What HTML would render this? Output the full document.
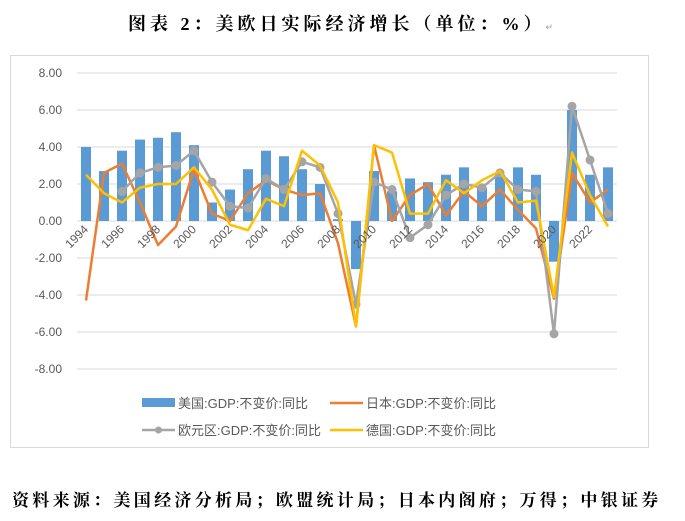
<!DOCTYPE html>
<html><head><meta charset="utf-8"><style>
body{margin:0;background:#fff;width:685px;height:521px;overflow:hidden;position:relative;font-family:"Liberation Sans","Noto Sans CJK SC",sans-serif}
#title{position:absolute;top:10px;left:0;width:685px;text-align:center;font-family:"Liberation Serif","Noto Serif CJK SC",serif;font-weight:bold;font-size:18px;letter-spacing:4px;color:#000}
#footer{position:absolute;top:486px;left:12px;white-space:nowrap;font-family:"Liberation Serif","Noto Serif CJK SC",serif;font-weight:bold;font-size:17px;letter-spacing:3.3px;color:#000}
</style></head><body>
<div id="title">图表 2：美欧日实际经济增长（单位：%）<span style="font-size:9px;color:#999;font-weight:normal">↵</span></div>
<svg id="chart" width="685" height="521" style="position:absolute;left:0;top:0">
<rect x="10.5" y="55.5" width="638" height="392" fill="none" stroke="#d9d9d9"/>
<g id="grid"></g><g id="bars"></g><g id="lines"></g><g id="axes"></g>
<g id="legend" font-size="13" fill="#595959">
<rect x="142" y="398" width="33" height="9" fill="#5b9bd5"/>
<text x="178" y="408">美国:GDP:不变价:同比</text>
<line x1="330" y1="403" x2="363" y2="403" stroke="#ed7d31" stroke-width="2.5"/>
<text x="366" y="408">日本:GDP:不变价:同比</text>
<line x1="142" y1="430" x2="175" y2="430" stroke="#a5a5a5" stroke-width="2.5"/>
<circle cx="158.5" cy="430" r="3.5" fill="#a5a5a5"/>
<text x="178" y="435">欧元区:GDP:不变价:同比</text>
<line x1="330" y1="430" x2="363" y2="430" stroke="#ffc000" stroke-width="2.5"/>
<text x="366" y="435">德国:GDP:不变价:同比</text>
</g>
</svg>
<div id="footer">资料来源：美国经济分析局；欧盟统计局；日本内阁府；万得；中银证券</div>
<script>
const years=[1994,1995,1996,1997,1998,1999,2000,2001,2002,2003,2004,2005,2006,2007,2008,2009,2010,2011,2012,2013,2014,2015,2016,2017,2018,2019,2020,2021,2022,2023];
const usVals=[4.0,2.7,3.8,4.4,4.5,4.8,4.1,1.0,1.7,2.8,3.8,3.5,2.8,2.0,0.1,-2.6,2.7,1.6,2.3,2.1,2.5,2.9,1.8,2.5,2.9,2.5,-2.2,6.0,2.5,2.9];
const japanVals=[-4.3,2.6,3.1,1.0,-1.3,-0.3,2.8,0.4,0.0,1.5,2.2,1.7,1.4,1.5,-1.2,-5.7,4.1,0.0,1.4,2.0,0.3,1.6,0.8,1.7,0.6,-0.4,-4.2,2.6,1.0,1.7];
const euroVals=[null,null,1.6,2.6,2.9,3.0,3.8,2.1,0.8,0.7,2.3,1.7,3.2,2.9,0.4,-4.5,2.1,1.7,-0.9,-0.2,1.4,2.0,1.8,2.6,1.7,1.6,-6.1,6.2,3.3,0.4];
const germanyVals=[2.5,1.5,1.0,1.8,2.0,2.0,2.9,1.7,-0.2,-0.5,1.2,0.8,3.8,3.0,1.0,-5.7,4.1,3.7,0.4,0.4,2.2,1.5,2.2,2.7,1.0,1.1,-4.1,3.7,1.4,-0.3];
const yTicks=[8,6,4,2,0,-2,-4,-6,-8];
const NS='http://www.w3.org/2000/svg';
const x0=77,x1=617,y0=73,y1=369,yMax=8,yMin=-8;
const step=(x1-x0)/years.length;
function xs(i){return x0+step*(i+0.5);}
function ys(v){return y0+(yMax-v)/(yMax-yMin)*(y1-y0);}
function mk(t,a,p){const e=document.createElementNS(NS,t);for(const k in a)e.setAttribute(k,a[k]);document.getElementById(p).appendChild(e);return e;}
yTicks.forEach(v=>{
 const g=mk('line',{x1:x0,x2:x1,y1:ys(v),y2:ys(v),stroke:'#d9d9d9','stroke-width':1},'grid');
 
 
 const t=mk('text',{x:62,y:ys(v)+4,'text-anchor':'end','font-size':12,fill:'#595959'},'axes');
 t.textContent=v.toFixed(2);
 
 
});
years.forEach((yr,i)=>{
 const v=usVals[i],bw=10;
 const b=mk('rect',{x:xs(i)-bw/2,y:Math.min(ys(v),ys(0)),width:bw,height:Math.abs(ys(v)-ys(0)),fill:'#5b9bd5'},'bars');
 
 
 if(i%2===0){
  const t=mk('text',{x:0,y:0,'text-anchor':'end','font-size':12,fill:'#595959',transform:`translate(${xs(i)+3},${ys(0)+9}) rotate(-45)`},'axes');
  t.textContent=yr;
  
  
 }
});
function series(vals,color,name,markers){
 let d='';vals.forEach((v,i)=>{if(v===null)return;d+=(d?'L':'M')+xs(i)+','+ys(v);});
 const p=mk('path',{d:d,fill:'none',stroke:color,'stroke-width':2.5,'stroke-linejoin':'round'},'lines');
 
 
 if(markers)vals.forEach((v,i)=>{if(v===null)return;
  const c=mk('circle',{cx:xs(i),cy:ys(v),r:4.5,fill:color},'lines');
  
  
 });
}
series(japanVals,'#ed7d31','japan',false);
series(euroVals,'#a5a5a5','euro',true);
series(germanyVals,'#ffc000','germany',false);
</script>
</body></html>
